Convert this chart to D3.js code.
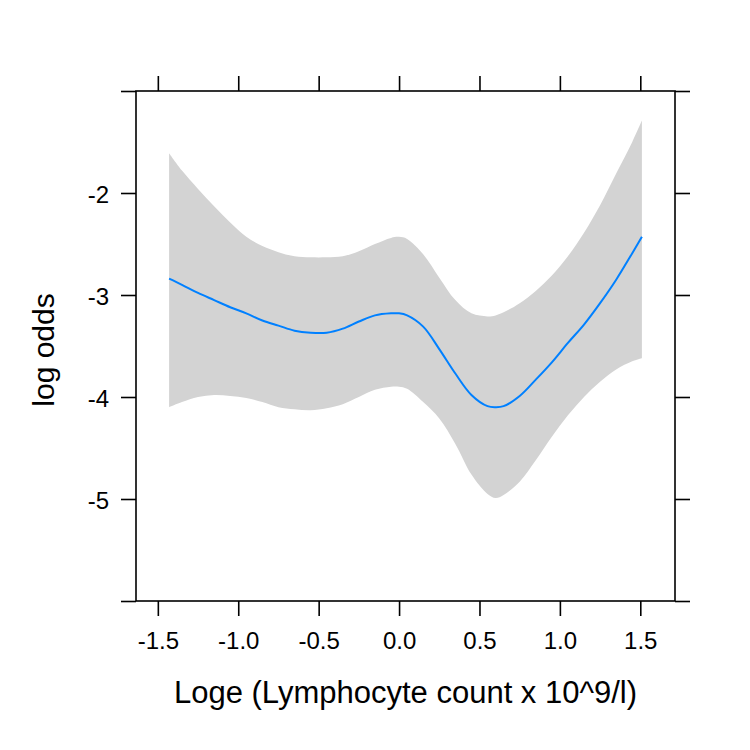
<!DOCTYPE html>
<html>
<head>
<meta charset="utf-8">
<script src="https://cdn.jsdelivr.net/npm/d3@7"></script>
<style>
    body { margin: 0; background: #fff; }
    .chart text { font-family: "Liberation Sans", Arial, sans-serif; fill: #000; }
</style>
</head>
<body>
<div class="chart"></div>
<script>
// #region Data
let xValues = [-1.43, -1.35, -1.25, -1.15, -1.05, -0.95, -0.85, -0.75, -0.65, -0.55, -0.45, -0.35, -0.25, -0.15, -0.05, 0.0, 0.05,
    0.15, 0.25, 0.35, 0.45, 0.55, 0.6, 0.65, 0.75, 0.85, 0.95, 1.05, 1.15, 1.25, 1.35, 1.45, 1.51];
let fitValues = [-2.84, -2.90, -2.98, -3.05, -3.12, -3.18, -3.25, -3.30, -3.35, -3.37, -3.37, -3.33, -3.26, -3.20, -3.18, -3.18, -3.20,
    -3.31, -3.53, -3.77, -3.98, -4.09, -4.10, -4.09, -3.99, -3.83, -3.66, -3.47, -3.29, -3.08, -2.85, -2.59, -2.43];
let upperValues = [-1.61, -1.78, -1.96, -2.13, -2.29, -2.43, -2.52, -2.58, -2.62, -2.63, -2.63, -2.62, -2.57, -2.50, -2.44, -2.43, -2.45,
    -2.60, -2.83, -3.05, -3.18, -3.21, -3.20, -3.17, -3.08, -2.96, -2.81, -2.62, -2.39, -2.12, -1.81, -1.50, -1.29];
let lowerValues = [-4.10, -4.05, -4.00, -3.98, -3.99, -4.01, -4.05, -4.10, -4.12, -4.13, -4.11, -4.07, -4.00, -3.93, -3.90, -3.90, -3.92,
    -4.05, -4.21, -4.46, -4.76, -4.95, -4.99, -4.96, -4.83, -4.62, -4.39, -4.18, -4.00, -3.85, -3.73, -3.65, -3.62];

let xTicks = [-1.5, -1.0, -0.5, 0.0, 0.5, 1.0, 1.5];
let yTicks = [-6, -5, -4, -3, -2, -1];
let yLabels = [-5, -4, -3, -2];
let yLimits = [-6, -1];

let xTitle = 'Loge (Lymphocyte count x 10^9/l)';
let yTitle = 'log odds';
// #endregion

// #region Main SVG
let svgWidth = 750, svgHeight = 750;
let panelLeft = 136, panelRight = 675, panelTop = 91, panelBottom = 601;
let tickLen = 15;

let svg = d3.select('.chart')
    .append('svg')
    .attr('width', svgWidth)
    .attr('height', svgHeight);

let dataSet = xValues.map((x, i) => ({ x: x, fit: fitValues[i], upper: upperValues[i], lower: lowerValues[i] }));

// lattice style padding of 7% around the data range
let xExt = d3.extent(xValues);
let xPad = (xExt[1] - xExt[0]) * 0.07;
let xScale = d3.scaleLinear()
    .domain([xExt[0] - xPad, xExt[1] + xPad])
    .range([panelLeft, panelRight]);
let yScale = d3.scaleLinear()
    .domain(yLimits)
    .range([panelBottom, panelTop]);
// #endregion

// #region Band && Line
svg.append('path')
    .datum(dataSet)
    .attr('fill', '#d3d3d3')
    .attr('d', d3.area()
        .x(d => xScale(d.x))
        .y0(d => yScale(d.lower))
        .y1(d => yScale(d.upper))
        .curve(d3.curveCatmullRom.alpha(0.5)));

svg.append('path')
    .datum(dataSet)
    .attr('fill', 'none')
    .attr('stroke', '#0080ff')
    .attr('stroke-width', 2)
    .attr('d', d3.line()
        .x(d => xScale(d.x))
        .y(d => yScale(d.fit))
        .curve(d3.curveCatmullRom.alpha(0.5)));
// #endregion

// #region Axes
let fmtX = d => d.toFixed(1);
let fmtY = d => yLabels.includes(d) ? String(d) : '';

let gBottom = svg.append('g')
    .attr('transform', 'translate(0,' + panelBottom + ')')
    .call(d3.axisBottom(xScale).tickValues(xTicks).tickSize(tickLen).tickPadding(16).tickFormat(fmtX));
let gTop = svg.append('g')
    .attr('transform', 'translate(0,' + panelTop + ')')
    .call(d3.axisTop(xScale).tickValues(xTicks).tickSize(tickLen).tickFormat(''));
let gLeft = svg.append('g')
    .attr('transform', 'translate(' + panelLeft + ',0)')
    .call(d3.axisLeft(yScale).tickValues(yTicks).tickSize(tickLen).tickPadding(12).tickFormat(fmtY));
let gRight = svg.append('g')
    .attr('transform', 'translate(' + panelRight + ',0)')
    .call(d3.axisRight(yScale).tickValues(yTicks).tickSize(tickLen).tickFormat(''));

[gBottom, gTop, gLeft, gRight].forEach(g => {
    g.select('.domain').remove();
    g.selectAll('line').attr('stroke', '#000').attr('stroke-width', 1.6);
    g.selectAll('text')
        .attr('font-size', 24)
        .attr('font-family', '"Liberation Sans", Arial, sans-serif')
        .attr('fill', '#000');
});
gLeft.selectAll('text').attr('dy', '0.4em');

svg.append('rect')
    .attr('x', panelLeft)
    .attr('y', panelTop)
    .attr('width', panelRight - panelLeft)
    .attr('height', panelBottom - panelTop)
    .attr('fill', 'none')
    .attr('stroke', '#000')
    .attr('stroke-width', 1.6);
// #endregion

// #region Titles
svg.append('text')
    .attr('x', (panelLeft + panelRight) / 2)
    .attr('y', 703)
    .attr('text-anchor', 'middle')
    .attr('font-size', 31)
    .text(xTitle);

svg.append('text')
    .attr('transform', 'translate(54,' + 350 + ') rotate(-90)')
    .attr('text-anchor', 'middle')
    .attr('font-size', 30)
    .text(yTitle);
// #endregion
</script>
</body>
</html>
